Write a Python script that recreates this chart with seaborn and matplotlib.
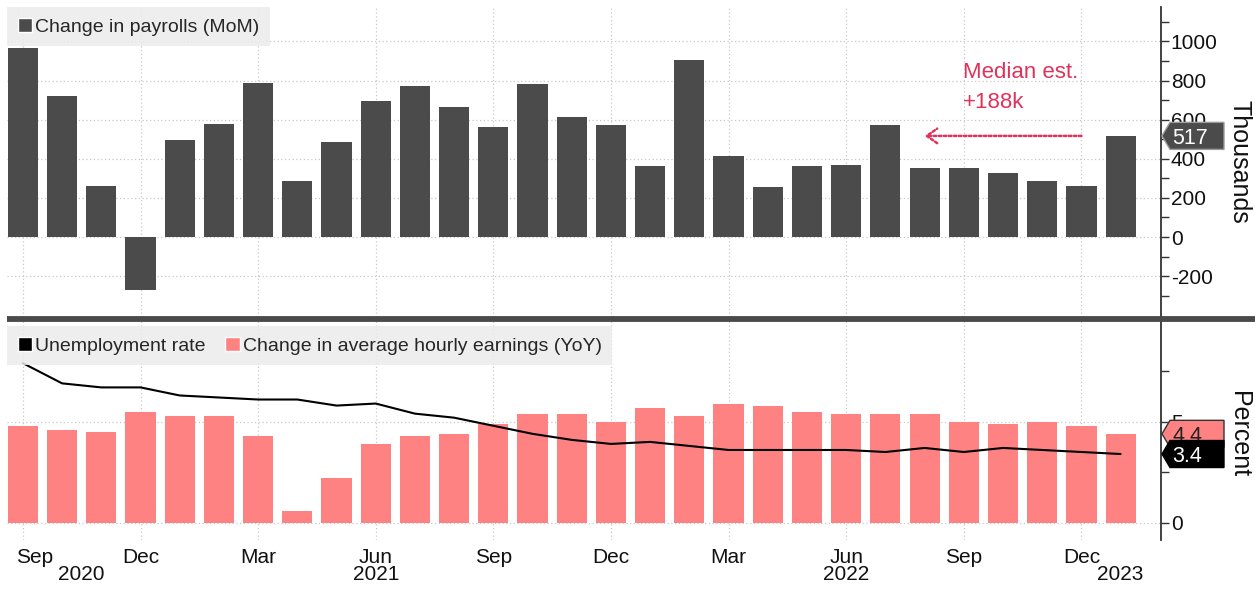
import numpy as np
import pandas as pd
import matplotlib
matplotlib.use("Agg")
import matplotlib.pyplot as plt
import seaborn as sns
from matplotlib.patches import Patch, Polygon
from matplotlib.lines import Line2D
from matplotlib.transforms import blended_transform_factory, Affine2D, ScaledTranslation

# ---- data: monthly, Sep 2020 through Jan 2023 ----
months = [p.strftime("%Y-%m") for p in pd.period_range("2020-09", "2023-01", freq="M")]
payrolls_k = [965, 720, 261, -271, 496, 576, 789, 288, 486, 694, 774, 667, 561, 783, 614,
              571, 363, 907, 416, 256, 363, 368, 571, 351, 351, 326, 286, 261, 517]
earnings_yoy = [4.8, 4.6, 4.5, 5.5, 5.3, 5.3, 4.3, 0.6, 2.2, 3.9, 4.3, 4.4, 4.9, 5.4, 5.4,
                5.0, 5.7, 5.3, 5.9, 5.8, 5.5, 5.4, 5.4, 5.4, 5.0, 4.9, 5.0, 4.8, 4.4]
unemployment = [7.9, 6.9, 6.7, 6.7, 6.3, 6.2, 6.1, 6.1, 5.8, 5.9, 5.4, 5.2, 4.8, 4.4, 4.1,
                3.9, 4.0, 3.8, 3.6, 3.6, 3.6, 3.6, 3.5, 3.7, 3.5, 3.7, 3.6, 3.5, 3.4]
median_estimate_k = 188

quarter_labels = ["Sep", "Dec", "Mar", "Jun", "Sep", "Dec", "Mar", "Jun", "Sep", "Dec"]
year_labels = ["2020", "2021", "2022", "2023"]

df = pd.DataFrame({"month": months, "payrolls": payrolls_k,
                   "earnings": earnings_yoy, "unemployment": unemployment})
xpos = np.arange(len(months))

# ---- style ----
sns.set_style("white")
plt.rcParams["font.family"] = ["Liberation Sans", "DejaVu Sans"]
plt.rcParams["axes.unicode_minus"] = False

DARK = "#4b4b4b"
SALMON = "#ff8282"
RED = "#e0325a"
GRID = "#c8c8c8"
INK = "#111111"

DPI = 100
W, H = 1255, 594
fig = plt.figure(figsize=(W / DPI, H / DPI), dpi=DPI)
fig.patch.set_facecolor("white")


def px_axes(left, top, right, bottom):
    return fig.add_axes([left / W, 1 - bottom / H, (right - left) / W, (bottom - top) / H])


def px_shift(dx, dy):
    return ScaledTranslation(dx / DPI, dy / DPI, fig.dpi_scale_trans)


ax_top = px_axes(7, 7, 1161, 317)
ax_bot = px_axes(7, 321, 1161, 540)

# ---- marks ----
sns.barplot(data=df, x="month", y="payrolls", color=DARK, saturation=1,
            width=0.77, linewidth=0, ax=ax_top)
sns.barplot(data=df, x="month", y="earnings", color=SALMON, saturation=1,
            width=0.77, linewidth=0, ax=ax_bot)
sns.lineplot(x=xpos, y=df["unemployment"], color="black", linewidth=1.5, ax=ax_bot)

# ---- axes cosmetics ----
for ax in (ax_top, ax_bot):
    ax.set_xlim(-0.406, 29.03)
    ax.set_xticks(np.arange(0, len(months), 3))
    ax.set_xticklabels([])
    ax.tick_params(axis="x", length=0)
    ax.set_xlabel("")
    ax.grid(True, which="major", axis="both", color=GRID,
            linestyle=(0, (1, 2)), linewidth=0.9)
    ax.set_axisbelow(True)
    for side in ("left", "top", "bottom"):
        ax.spines[side].set_visible(False)
    ax.spines["right"].set_color("#333333")
    ax.spines["right"].set_linewidth(1.3)
    ax.yaxis.tick_right()
    ax.yaxis.set_label_position("right")
    ax.tick_params(axis="y", which="both", direction="out", length=5.5, width=1,
                   color="#333333", labelsize=15, pad=1.5, labelcolor=INK)

ax_top.set_ylim(-409, 1176)
ax_top.set_yticks(np.arange(-200, 1001, 200))
ax_top.set_yticks(np.arange(-300, 1101, 200), minor=True)
ax_bot.set_ylim(-0.86, 9.99)
ax_bot.set_yticks([0, 5])
ax_bot.set_yticks([2.5, 7.5], minor=True)

ax_top.set_ylabel("Thousands", rotation=270, fontsize=18, color=INK, va="center", ha="center")
ax_top.yaxis.set_label_coords(1.0677, 0.5)
ax_bot.set_ylabel("Percent", rotation=270, fontsize=18, color=INK, va="center", ha="center")
ax_bot.yaxis.set_label_coords(1.0677, 0.484)

# ---- legends ----
leg_kw = dict(loc="upper left", frameon=True, fancybox=False, framealpha=0.85,
              facecolor="#ececec", edgecolor="none", fontsize=14,
              handlelength=0.75, handleheight=0.75, handletextpad=0.15,
              borderpad=0.55, borderaxespad=0)
ax_top.legend(handles=[Patch(facecolor=DARK, label="Change in payrolls (MoM)")],
              bbox_to_anchor=(0, 1), **leg_kw)
ax_bot.legend(handles=[Patch(facecolor="black", label="Unemployment rate"),
                       Patch(facecolor=SALMON, label="Change in average hourly earnings (YoY)")],
              bbox_to_anchor=(0, 1 - 5 / 219), ncol=2, columnspacing=1.0, **leg_kw)

# ---- panel separator ----
fig.add_artist(Line2D([7 / W, 1.0], [1 - 319 / H] * 2, transform=fig.transFigure,
                      color="#4a4a4a", linewidth=4.2, solid_capstyle="butt"))

# ---- date labels under the lower panel ----
xbase = ax_bot.get_xaxis_transform()
for i, lab in zip(range(0, len(months), 3), quarter_labels):
    dx = 11.5 if i == 0 else 0
    ax_bot.text(i, 0, lab, transform=xbase + px_shift(dx, -23), ha="center",
                va="baseline", fontsize=15, color=INK)
for pos, lab in zip([1.5, 9, 21, 28], year_labels):
    ax_bot.text(pos, 0, lab, transform=xbase + px_shift(0, -40), ha="center",
                va="baseline", fontsize=15, color=INK)

# ---- consensus annotation ----
latest = payrolls_k[-1]
ax_top.text(23.98, 813, "Median est.", color=RED, fontsize=16, ha="left", va="baseline")
ax_top.text(23.98, 660, f"+{median_estimate_k}k", color=RED, fontsize=16, ha="left", va="baseline")
ax_top.annotate("", xy=(23, latest), xytext=(27, latest),
                arrowprops=dict(arrowstyle="->,head_length=0.5,head_width=0.35",
                                color=RED, lw=1.8, linestyle=(0, (1, 1)),
                                mutation_scale=15, shrinkA=0, shrinkB=0))


# ---- last-value tags on the right axis ----
def value_tag(ax, value, text, face, edge, txt, z):
    yref = blended_transform_factory(ax.transAxes, ax.transData)
    anchor = ScaledTranslation(1.0, value, yref)
    verts = [(1, 0), (9, 13.5), (63, 13.5), (63, -13.5), (9, -13.5)]
    poly = Polygon(verts, closed=True, transform=Affine2D().scale(fig.dpi / DPI) + anchor,
                   facecolor=face, edgecolor=edge, linewidth=1, clip_on=False, zorder=z)
    ax.add_artist(poly)
    ax.annotate(text, xy=(1.0, value), xycoords=yref, xytext=(11.5 * 72 / DPI, 0),
                textcoords="offset points", ha="left", va="center_baseline",
                fontsize=15.5, color=txt, zorder=z + 0.5, annotation_clip=False)


value_tag(ax_top, payrolls_k[-1], f"{payrolls_k[-1]}", DARK, "#9a9a9a", "white", 6)
value_tag(ax_bot, earnings_yoy[-1], f"{earnings_yoy[-1]:.1f}", SALMON, "#333333", "#222222", 6)
value_tag(ax_bot, unemployment[-1], f"{unemployment[-1]:.1f}", "black", "black", "white", 8)

fig.savefig("out.png", dpi=DPI, facecolor="white")
